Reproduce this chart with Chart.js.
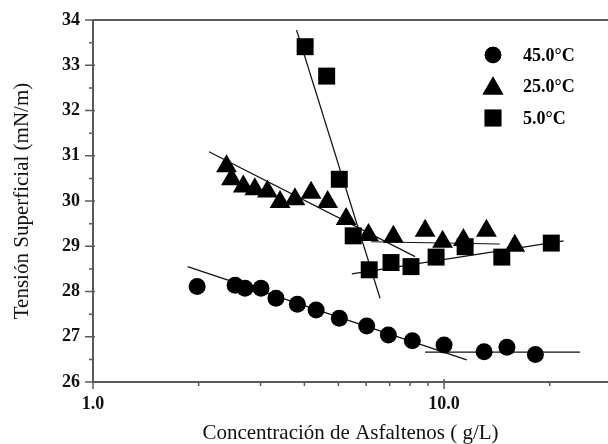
<!DOCTYPE html>
<html>
<head>
<meta charset="utf-8">
<script src="https://cdn.jsdelivr.net/npm/chart.js@4"></script>
<style>
html,body{margin:0;padding:0;background:#fff;}
#wrap{width:608px;height:444px;}
</style>
</head>
<body>
<div id="wrap"><canvas id="c" width="608" height="444"></canvas></div>
<script>
// ---- data ----
const series45Label = "45.0°C";
const series25Label = "25.0°C";
const series5Label = "5.0°C";

const conc45 = [1.98, 2.54, 2.71, 3.01, 3.32, 3.82, 4.32, 5.03, 6.02, 6.94, 8.12, 10.0, 13.0, 15.1, 18.2];
const tens45 = [28.11, 28.14, 28.07, 28.07, 27.85, 27.72, 27.59, 27.41, 27.24, 27.04, 26.91, 26.82, 26.67, 26.77, 26.61];

const conc25 = [2.40, 2.48, 2.68, 2.89, 3.14, 3.41, 3.76, 4.18, 4.66, 5.26, 6.09, 7.17, 8.83, 9.9, 11.35, 13.2, 15.9];
const tens25 = [30.77, 30.48, 30.32, 30.26, 30.21, 29.98, 30.04, 30.18, 29.98, 29.6, 29.25, 29.21, 29.34, 29.10, 29.14, 29.34, 29.01];

const conc5 = [4.02, 4.63, 5.03, 5.51, 6.12, 7.06, 8.05, 9.49, 11.48, 14.6, 20.2];
const tens5 = [33.41, 32.76, 30.48, 29.23, 28.48, 28.64, 28.55, 28.76, 28.99, 28.76, 29.07];

// fitted straight lines: [x0, x1], [y0, y1]
const fit45aX = [1.86, 11.6],  fit45aY = [28.55, 26.49];
const fit45bX = [8.83, 24.4],  fit45bY = [26.66, 26.66];
const fit25aX = [2.14, 8.27],  fit25aY = [31.09, 28.77];
const fit25bX = [6.2, 14.4],   fit25bY = [29.10, 29.05];
const fit5aX  = [3.80, 6.57],  fit5aY  = [33.78, 27.85];
const fit5bX  = [5.46, 21.9],  fit5bY  = [28.39, 29.12];

const xMajorTicks = [1, 10];
const xMajorLabels = ["1.0", "10.0"];
const xMinorTicks = [2, 3, 4, 5, 6, 7, 8, 9, 20];
const yMin = 26, yMax = 34;
const yMajorStep = 1, yMinorStep = 0.5;
const xMin = 1, xMax = 29.3;

const xTitle = "Concentración de Asfaltenos ( g/L)";
const yTitle = "Tensión Superficial (mN/m)";

// ---- build ----
const pts = (xs, ys) => xs.map((x, i) => ({x: x, y: ys[i]}));
const lineDs = (xs, ys) => ({
  type: 'line', data: pts(xs, ys), borderColor: '#111', borderWidth: 1.2,
  pointRadius: 0, fill: false, isFit: true, order: 2
});
const scatterDs = (label, xs, ys, style, r) => ({
  type: 'scatter', label: label, data: pts(xs, ys), pointStyle: style,
  pointRadius: r, pointHoverRadius: r, backgroundColor: '#000', borderColor: '#000',
  borderWidth: 0, order: 1
});

const AXIS = '#5a5a5a';
const serif = "'Liberation Serif', 'DejaVu Serif', serif";

const framePlugin = {
  id: 'frame',
  afterDraw(chart) {
    const ctx = chart.ctx, a = chart.chartArea;
    const xs = chart.scales.x, ys = chart.scales.y;
    ctx.save();
    ctx.strokeStyle = AXIS;
    ctx.lineWidth = 2;
    ctx.beginPath();
    ctx.moveTo(a.left, a.top); ctx.lineTo(a.right, a.top);
    ctx.moveTo(a.left, a.top); ctx.lineTo(a.left, a.bottom + 1);
    ctx.moveTo(a.left, a.bottom); ctx.lineTo(a.right, a.bottom);
    ctx.stroke();
    ctx.lineWidth = 1.5;
    ctx.beginPath();
    xMajorTicks.forEach(v => { const p = xs.getPixelForValue(v); ctx.moveTo(p, a.bottom - 3); ctx.lineTo(p, a.bottom + 7); });
    xMinorTicks.forEach(v => { const p = xs.getPixelForValue(v); ctx.moveTo(p, a.bottom); ctx.lineTo(p, a.bottom + 4); });
    for (let v = yMin; v <= yMax + 1e-9; v += yMinorStep) {
      const p = ys.getPixelForValue(v);
      const major = Math.abs(v - Math.round(v)) < 1e-9;
      ctx.moveTo(a.left - (major ? 8 : 4), p); ctx.lineTo(a.left + (major ? 2 : 0), p);
    }
    ctx.stroke();
    // legend
    const items = chart.data.datasets.filter(d => !d.isFit);
    ctx.fillStyle = '#000';
    ctx.font = "bold 18px " + serif;
    ctx.textBaseline = 'middle';
    items.forEach((d, i) => {
      const cx = a.right - 115, cy = a.top + 35 + i * 31.5;
      Chart.helpers.drawPoint(ctx, {pointStyle: d.pointStyle, radius: d.pointStyle === 'circle' ? 8.3 : (d.pointStyle === 'triangle' ? 12 : 11.8), borderWidth: 0}, cx, cy + (d.pointStyle === 'triangle' ? 2 : 0));
      ctx.fill();
      ctx.fillText(d.label, cx + 30, cy + 1);
    });
    ctx.restore();
  }
};

new Chart(document.getElementById('c'), {
  data: {
    datasets: [
      scatterDs(series45Label, conc45, tens45, 'circle', 8.5),
      scatterDs(series25Label, conc25, tens25, 'triangle', 12),
      scatterDs(series5Label, conc5, tens5, 'rect', 12),
      lineDs(fit45aX, fit45aY), lineDs(fit45bX, fit45bY),
      lineDs(fit25aX, fit25aY), lineDs(fit25bX, fit25bY),
      lineDs(fit5aX, fit5aY), lineDs(fit5bX, fit5bY)
    ]
  },
  options: {
    responsive: false,
    animation: false,
    devicePixelRatio: 1,
    layout: {autoPadding: false, padding: {top: 20, right: 0, left: 0, bottom: 0}},
    plugins: {legend: {display: false}, tooltip: {enabled: false}},
    scales: {
      x: {
        type: 'logarithmic', min: xMin, max: xMax,
        border: {display: false},
        grid: {display: false, drawTicks: false},
        afterBuildTicks(scale) {
          scale.ticks = xMajorTicks.map(v => ({value: v}));
        },
        ticks: {
          autoSkip: false, maxRotation: 0, padding: 12, color: '#111',
          font: {family: serif, size: 18, weight: 'bold'},
          callback: (v) => { const i = xMajorTicks.indexOf(v); return i >= 0 ? xMajorLabels[i] : ''; }
        },
        title: {display: true, text: xTitle, color: '#111', font: {family: serif, size: 21, lineHeight: 1.0}, padding: {top: 0, bottom: 0}},
        afterFit(scale) { scale.height = 62; scale.paddingLeft = 0; scale.paddingRight = 0; }
      },
      y: {
        min: yMin, max: yMax,
        border: {display: false},
        grid: {display: false, drawTicks: false},
        ticks: {
          stepSize: yMajorStep, padding: 13, color: '#111',
          font: {family: serif, size: 18, weight: 'bold'},
          callback: (v) => String(v)
        },
        title: {display: true, text: yTitle, color: '#111', font: {family: serif, size: 21, lineHeight: 1.0}, padding: {top: 12, bottom: 0}},
        afterFit(scale) { scale.width = 93; scale.paddingTop = 0; scale.paddingBottom = 0; }
      }
    }
  },
  plugins: [framePlugin]
});
</script>
</body>
</html>
